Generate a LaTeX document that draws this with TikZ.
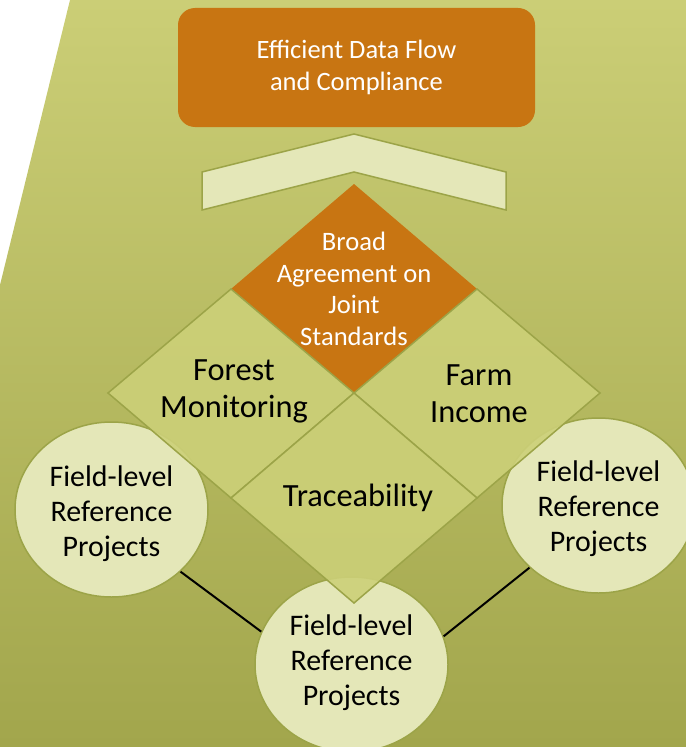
\documentclass[tikz,border=0pt]{standalone}
\usepackage{fontspec}
\setmainfont{Carlito}
\usetikzlibrary{shapes.geometric}
\definecolor{bgtop}{RGB}{203,206,118}
\definecolor{bgbot}{RGB}{162,166,76}
\definecolor{dgreen}{RGB}{204,208,120}
\definecolor{cfill}{RGB}{228,231,184}
\definecolor{gline}{RGB}{156,164,72}
\definecolor{orng}{RGB}{200,117,18}
\newcommand{\fieldtext}[1]{\raisebox{#1}[\height][\depth]{\begin{tabular}{@{}c@{}}Field-level\\Reference\\Projects\end{tabular}}}
\tikzset{
  greendia/.style={fill=dgreen, fill opacity=0.9, draw=gline, line width=1.5bp, draw opacity=1},
  orangedia/.style={fill=orng},
  fieldcirc/.style={ellipse, fill=cfill, draw=gline, line width=1.5bp, inner sep=0pt,
    minimum width=193bp, minimum height=175bp, align=center,
    font=\fontsize{30pt}{35pt}\selectfont},
  bigtxt/.style={align=center, font=\fontsize{32.5pt}{37pt}\selectfont, text=black},
  orangetxt/.style={align=center, text=white, font=\fontsize{26.7pt}{31.8pt}\selectfont},
  topbox/.style={rectangle, rounded corners=17bp, fill=orng, minimum width=357bp,
    minimum height=119bp, align=center, text=white, font=\fontsize{26.6pt}{32pt}\selectfont},
  chev/.style={fill=cfill, draw=gline, line width=1.5bp},
  link/.style={draw=black, line width=2bp}
}
\begin{document}
\begin{tikzpicture}[x=1bp, y=-1bp]
\useasboundingbox (0,0) rectangle (686,747);
% background
\shade[top color=bgtop, bottom color=bgbot] (70,0) -- (686,0) -- (686,747) -- (0,747) -- (0,285) -- cycle;
% field-level circles
\node[fieldcirc] (fl) at (111.5,509.5) {\fieldtext{-5bp}};
\node[fieldcirc] (fr) at (598.5,505.5) {\fieldtext{-4bp}};
\node[fieldcirc] (fb) at (351.5,664.5) {\fieldtext{1bp}};
\draw[link] (fl.-42) -- (fb.160);
\draw[link] (fr.222) -- (fb.17);
% diamond grid
\coordinate (dT) at (354,184);
\coordinate (dUL) at (231,289);
\coordinate (dUR) at (477,289);
\coordinate (dL) at (108,393);
\coordinate (dC) at (354,393);
\coordinate (dR) at (600,393);
\coordinate (dLL) at (231,498);
\coordinate (dLR) at (477,498);
\coordinate (dB) at (354,603);
\fill[orangedia] (dT) -- (dUR) -- (dC) -- (dUL) -- cycle;
\draw[greendia] (dUL) -- (dC) -- (dLL) -- (dL) -- cycle;
\draw[greendia] (dUR) -- (dR) -- (dLR) -- (dC) -- cycle;
\draw[greendia] (dC) -- (dLR) -- (dB) -- (dLL) -- cycle;
\node[orangetxt] (broad) at (354,289) {Broad\\Agreement on\\Joint\\Standards};
\node[bigtxt] (forest) at (234,391) {Forest\\Monitoring};
\node[bigtxt] (farm) at (479,394) {Farm\\Income};
\node[bigtxt] (trace) at (358,498) {Traceability};
% chevron
\draw[chev] (202,172) -- (354,134) -- (506,172) -- (506,210) -- (354,172) -- (202,210) -- cycle;
% top box
\node[topbox] (goal) at (356.5,67.5) {Efficient Data Flow\\and Compliance};
\end{tikzpicture}
\end{document}
